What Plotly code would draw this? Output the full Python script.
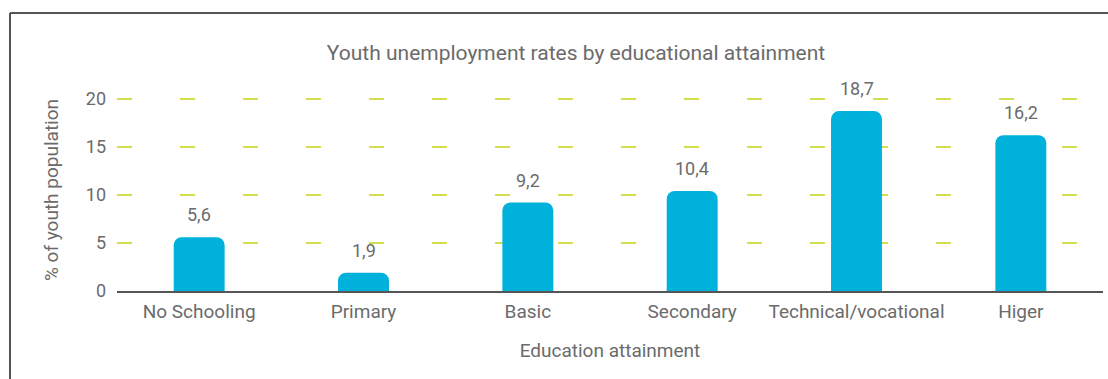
import plotly.graph_objects as go

categories = ["No Schooling", "Primary", "Basic", "Secondary", "Technical/vocational", "Higer"]
values = [5.6, 1.9, 9.2, 10.4, 18.7, 16.2]
y_ticks = [0, 5, 10, 15, 20]

FONT = "Roboto, Liberation Sans Narrow, sans-serif"
GRAY = "#6b6b6b"

W, H = 1108, 379
L, R, T, B = 117, 5, 89, 88
pw, ph = W - L - R, H - T - B

def px_x(x):
    return (x - L) / pw

def px_y(y):
    return (H - B - y) / ph

fig = go.Figure()
fig.add_trace(go.Bar(
    x=categories, y=values, width=0.31,
    marker=dict(color="#00b2db", cornerradius=8, line=dict(width=0)),
    hoverinfo="skip",
))

for c, v in zip(categories, values):
    fig.add_annotation(x=c, y=v, text=f"{v:.1f}".replace(".", ","), showarrow=False,
                       yanchor="bottom", yshift=10,
                       font=dict(family=FONT, size=18, color=GRAY))

# frame lines
fig.add_shape(type="line", xref="paper", yref="paper",
              x0=px_x(10), x1=px_x(1108), y0=px_y(13), y1=px_y(13),
              line=dict(color="#555555", width=2))
fig.add_shape(type="line", xref="paper", yref="paper",
              x0=px_x(10), x1=px_x(10), y0=px_y(13), y1=px_y(379),
              line=dict(color="#555555", width=2))

fig.update_layout(
    width=W, height=H,
    margin=dict(l=L, r=R, t=T, b=B),
    paper_bgcolor="white", plot_bgcolor="white",
    showlegend=False,
    title=dict(text="Youth unemployment rates by educational attainment",
               x=576 / W, xanchor="center", y=1 - 53 / H, yanchor="middle",
               font=dict(family=FONT, size=21, color=GRAY)),
    xaxis=dict(showline=True, linecolor="#555555", linewidth=2, showgrid=False,
               ticks="", ticklabelstandoff=2,
               tickfont=dict(family=FONT, size=19, color=GRAY),
               title=dict(text="Education attainment", standoff=22,
                          font=dict(family=FONT, size=19, color=GRAY))),
    yaxis=dict(range=[0, 21], tickvals=y_ticks, showgrid=True,
               gridcolor="#d4dd4c", gridwidth=2, griddash="15px,48px",
               zeroline=False, showline=False, ticks="", ticklabelstandoff=10,
               tickfont=dict(family=FONT, size=18, color=GRAY),
               title=dict(text="% of youth population", standoff=22,
                          font=dict(family=FONT, size=19, color=GRAY))),
    bargap=0.69,
)

fig.write_html("out.html")
